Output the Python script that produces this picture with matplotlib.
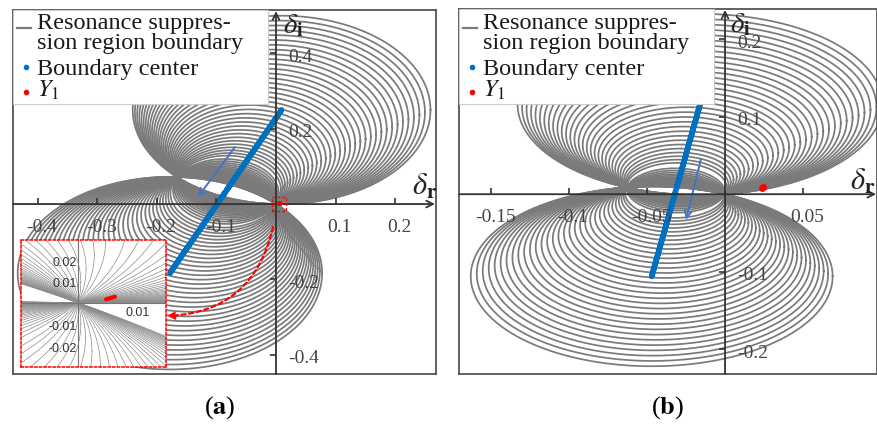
import numpy as np
import matplotlib.pyplot as plt

plt.rcParams['font.family'] = ['Liberation Serif', 'DejaVu Serif']
plt.rcParams['mathtext.fontset'] = 'stix'

W, H = 878, 430

# ---------------- panel (a) data ----------------
a_xlim = (-0.4416, 0.2687)
a_ylim = (-0.451, 0.515)
a_center_lo = (-0.178, -0.183)     # boundary center, lower end
a_center_hi = (0.0095, 0.25)       # boundary center, upper end
# offsets of each boundary circle's center along the center line
a_upper_d = [0.233, 0.226, 0.219, 0.212, 0.205, 0.198, 0.191, 0.184, 0.177, 0.170,
             0.163, 0.156, 0.149, 0.142, 0.135, 0.128, 0.121, 0.114, 0.107, 0.100,
             0.093, 0.086, 0.079, 0.072, 0.065, 0.058, 0.051, 0.044, 0.037, 0.030,
             0.023, 0.016, 0.009, 0.002]
a_lower_d = [-0.239, -0.232, -0.225, -0.218, -0.211, -0.204, -0.197, -0.190, -0.183, -0.176,
             -0.169, -0.162, -0.155, -0.148, -0.141, -0.134, -0.127, -0.120, -0.113, -0.106,
             -0.099, -0.092, -0.085, -0.078, -0.071, -0.064, -0.057, -0.050, -0.043, -0.036,
             -0.029, -0.022, -0.015, -0.008]
a_xticks = [-0.4, -0.3, -0.2, -0.1, 0.1, 0.2]
a_xticklabels = ['-0.4', '-0.3', '-0.2', '-0.1', '0.1', '0.2']
a_yticks = [0.4, 0.2, -0.2, -0.4]
a_yticklabels = ['0.4', '0.2', '-0.2', '-0.4']
a_y1_x = [0.0047, 0.0052, 0.0057, 0.0062]
a_y1_y = [0.0016, 0.0020, 0.0024, 0.0028]
a_arrow_from = (-0.069, 0.151)
a_arrow_to = (-0.131, 0.019)

# inset of panel (a)
in_xlim = (-0.0096, 0.0148)
in_ylim = (-0.0299, 0.0292)
in_yticks = [0.02, 0.01, -0.01, -0.02]
in_yticklabels = ['0.02', '0.01', '-0.01', '-0.02']
in_xticks = [0.01]
in_xticklabels = ['0.01']

# ---------------- panel (b) data ----------------
b_xlim = (-0.1705, 0.0974)
b_ylim = (-0.232, 0.239)
b_center_lo = (-0.047, -0.106)
b_center_hi = (-0.016, 0.116)
b_upper_d = [0.1125, 0.109, 0.1055, 0.102, 0.0985, 0.095, 0.0915, 0.088, 0.0845, 0.081,
             0.0775, 0.074, 0.0705, 0.067, 0.0635, 0.060, 0.0565, 0.053, 0.0495, 0.046,
             0.0425, 0.039, 0.0355, 0.032, 0.0285, 0.025, 0.0215, 0.018, 0.0145, 0.011,
             0.0075, 0.004]
b_lower_d = [-0.1115, -0.108, -0.1045, -0.101, -0.0975, -0.094, -0.0905, -0.087, -0.0835, -0.080,
             -0.0765, -0.073, -0.0695, -0.066, -0.0625, -0.059, -0.0555, -0.052, -0.0485, -0.045,
             -0.0415, -0.038, -0.0345, -0.031, -0.0275, -0.024, -0.0205, -0.017, -0.0135, -0.010,
             -0.0065, -0.003]
b_xticks = [-0.15, -0.1, -0.05, 0.05]
b_xticklabels = ['-0.15', '-0.1', '-0.05', '0.05']
b_yticks = [0.2, 0.1, -0.1, -0.2]
b_yticklabels = ['0.2', '0.1', '-0.1', '-0.2']
b_y1_x = [0.0235, 0.0245]
b_y1_y = [0.0085, 0.0095]
b_arrow_from = (-0.0154, 0.0455)
b_arrow_to = (-0.025, -0.033)

GRAY = '#7a7a7a'
BLUE = '#0070C0'
ARROW_BLUE = '#4472C4'
AXC = '#333333'


def family(lo, hi, ds):
    # circles through the origin whose centers lie on the boundary-center line
    lo = np.array(lo)
    hi = np.array(hi)
    u = (hi - lo) / np.linalg.norm(hi - lo)
    foot = lo - np.dot(lo, u) * u
    centers = foot + np.outer(ds, u)
    radii = np.linalg.norm(centers, axis=1)
    return centers, radii


def draw_circles(ax, centers, radii, lw, color, n=2000):
    th = np.linspace(0, 2 * np.pi, n)
    for c, r in zip(centers, radii):
        ax.plot(c[0] + r * np.cos(th), c[1] + r * np.sin(th), color=color, lw=lw, zorder=1)


def make_axes(box):
    left, top, right, bottom = box
    ax = fig.add_axes([left / W, 1 - bottom / H, (right - left) / W, (bottom - top) / H])
    ax.set_xticks([])
    ax.set_yticks([])
    for s in ax.spines.values():
        s.set_color('#555555')
        s.set_linewidth(1.3)
    return ax


def to_axes(box, x, y):
    left, top, right, bottom = box
    return (x - left) / (right - left), (bottom - y) / (bottom - top)


def draw_panel(ax, box, xlim, ylim, lo, hi, up_d, low_d, xticks, xtl, yticks, ytl,
               y1x, y1y, y1ms, arr_from, arr_to, x_end, y_end, dr_px, di_px):
    ax.set_xlim(*xlim)
    ax.set_ylim(*ylim)
    cu, ru = family(lo, hi, up_d)
    cl, rl = family(lo, hi, low_d)
    draw_circles(ax, cu, ru, 1.25, GRAY)
    draw_circles(ax, cl, rl, 1.25, GRAY)

    # axis lines with arrows
    ax.annotate('', xy=(x_end, 0), xytext=(xlim[0], 0),
                arrowprops=dict(arrowstyle='->', color=AXC, lw=1.3, shrinkA=0, shrinkB=0,
                                mutation_scale=12), zorder=4)
    ax.annotate('', xy=(0, y_end), xytext=(0, ylim[0]),
                arrowprops=dict(arrowstyle='->', color=AXC, lw=1.3, shrinkA=0, shrinkB=0,
                                mutation_scale=12), zorder=4)
    ax.plot(xticks, [0] * len(xticks), ls='', marker=2, ms=4, mew=1.2, color=AXC, zorder=4)
    ax.plot([0] * len(yticks), yticks, ls='', marker=0, ms=4, mew=1.2, color=AXC, zorder=4)
    for v, t in zip(xticks, xtl):
        ax.annotate(t, (v, 0), xytext=(3, -17), textcoords='offset points', ha='center',
                    va='center', fontsize=14, color='#444444', zorder=4)
    for v, t in zip(yticks, ytl):
        ax.annotate(t, (0, v), xytext=(9, -3), textcoords='offset points', ha='left',
                    va='center', fontsize=14, color='#444444', zorder=4)

    # boundary center line (all circle centers)
    allc = np.vstack([cl[::-1], cu])
    ax.plot(allc[:, 0], allc[:, 1], color=BLUE, lw=4.0, solid_capstyle='round', zorder=3)
    ax.annotate('', xy=arr_to, xytext=arr_from,
                arrowprops=dict(arrowstyle='->', color=ARROW_BLUE, lw=1.4, shrinkA=0, shrinkB=0,
                                mutation_scale=12), zorder=3)
    ax.plot(y1x, y1y, 'o', color='red', ms=y1ms, mec='none', zorder=6)

    # axis labels
    tx, ty = to_axes(box, *dr_px)
    ax.text(tx, ty, r'$\delta_{\mathbf{r}}$', transform=ax.transAxes, fontsize=22,
            color='#222222', ha='left', va='baseline', zorder=4)
    tx, ty = to_axes(box, *di_px)
    ax.text(tx, ty, r'$\delta_{\mathbf{i}}$', transform=ax.transAxes, fontsize=21,
            color='#222222', ha='left', va='baseline', zorder=4)

    # legend box
    left, top, right, bottom = box
    x0, y0 = to_axes(box, left, 104)
    x1, y1 = to_axes(box, left + 255, top)
    ax.add_patch(plt.Rectangle((x0, y0), x1 - x0, y1 - y0, transform=ax.transAxes,
                               facecolor='white', edgecolor='#cccccc', lw=0.8, zorder=7))
    lines = [('Resonance suppres-', 29), ('sion region boundary', 49),
             ('Boundary center', 75), (r'$Y_1$', 97)]
    for t, yb in lines:
        tx, ty = to_axes(box, left + 24, yb)
        ax.text(tx, ty, t, transform=ax.transAxes, fontsize=17.5, color='#1a1a1a',
                ha='left', va='baseline', zorder=8)
    xa, ya = to_axes(box, left + 4, 28)
    xb, _ = to_axes(box, left + 18, 28)
    ax.plot([xa, xb], [ya, ya], color=GRAY, lw=1.6, transform=ax.transAxes, zorder=8)
    xa, ya = to_axes(box, left + 13, 67)
    ax.plot([xa], [ya], 'o', color=BLUE, ms=4, mec='none', transform=ax.transAxes, zorder=8)
    xa, ya = to_axes(box, left + 13, 92)
    ax.plot([xa], [ya], 'o', color='red', ms=4, mec='none', transform=ax.transAxes, zorder=8)
    return cu, ru, cl, rl


fig = plt.figure(figsize=(W / 100, H / 100), dpi=100)

box_a = (13, 10, 436, 374)
box_b = (459, 9, 877, 374)
ax_a = make_axes(box_a)
ax_b = make_axes(box_b)

cu, ru, cl, rl = draw_panel(ax_a, box_a, a_xlim, a_ylim, a_center_lo, a_center_hi,
                            a_upper_d, a_lower_d, a_xticks, a_xticklabels, a_yticks,
                            a_yticklabels, a_y1_x, a_y1_y, 3.5, a_arrow_from, a_arrow_to,
                            0.267, 0.512, (412, 195), (283, 33))
draw_panel(ax_b, box_b, b_xlim, b_ylim, b_center_lo, b_center_hi, b_upper_d, b_lower_d,
           b_xticks, b_xticklabels, b_yticks, b_yticklabels, b_y1_x, b_y1_y, 5,
           b_arrow_from, b_arrow_to, 0.0968, 0.2378, (850, 190), (730, 32))

# red zoom square and curved pointer in panel (a)
ax_a.add_patch(plt.Rectangle((-0.0067, -0.0186), 0.0235, 0.0372, fill=False,
                             edgecolor='red', lw=1.0, ls=(0, (2, 1.5)), zorder=6))
ax_a.annotate('', xy=(-0.183, -0.297), xytext=(-0.005, -0.061),
              arrowprops=dict(arrowstyle='-|>', color='red', lw=1.6, ls=(0, (2, 1.5)),
                              connectionstyle='arc3,rad=-0.38', shrinkA=0, shrinkB=0,
                              mutation_scale=10), zorder=6)

# inset: neighbourhood of the origin
ax_in = fig.add_axes([21 / W, 1 - 367 / H, 145 / W, 127 / H])
ax_in.set_xlim(*in_xlim)
ax_in.set_ylim(*in_ylim)
ax_in.set_xticks([])
ax_in.set_yticks([])
draw_circles(ax_in, cu, ru, 0.5, '#8c8c8c', n=6000)
draw_circles(ax_in, cl, rl, 0.5, '#8c8c8c', n=6000)
ax_in.axvline(0, color='#777777', lw=0.8, zorder=2)
ax_in.axhline(0, color='#777777', lw=0.8, zorder=2)
for v, t in zip(in_yticks, in_yticklabels):
    ax_in.annotate(t, (0, v), xytext=(-1, -2), textcoords='offset points', ha='right',
                   va='center', fontsize=9, family='Liberation Sans', color='#333333')
for v, t in zip(in_xticks, in_xticklabels):
    ax_in.annotate(t, (v, 0), xytext=(0, -3), textcoords='offset points', ha='center',
                   va='top', fontsize=9, family='Liberation Sans', color='#333333')
ax_in.plot(a_y1_x, a_y1_y, color='red', lw=3, solid_capstyle='round', zorder=5)
for s in ax_in.spines.values():
    s.set_color('red')
    s.set_linestyle((0, (1.5, 1.5)))
    s.set_linewidth(1.1)

fig.text(220 / W, 1 - 408 / H, r'($\mathbf{a}$)', ha='center', va='center', fontsize=19)
fig.text(668 / W, 1 - 408 / H, r'($\mathbf{b}$)', ha='center', va='center', fontsize=19)

fig.savefig('out.png', dpi=100)
